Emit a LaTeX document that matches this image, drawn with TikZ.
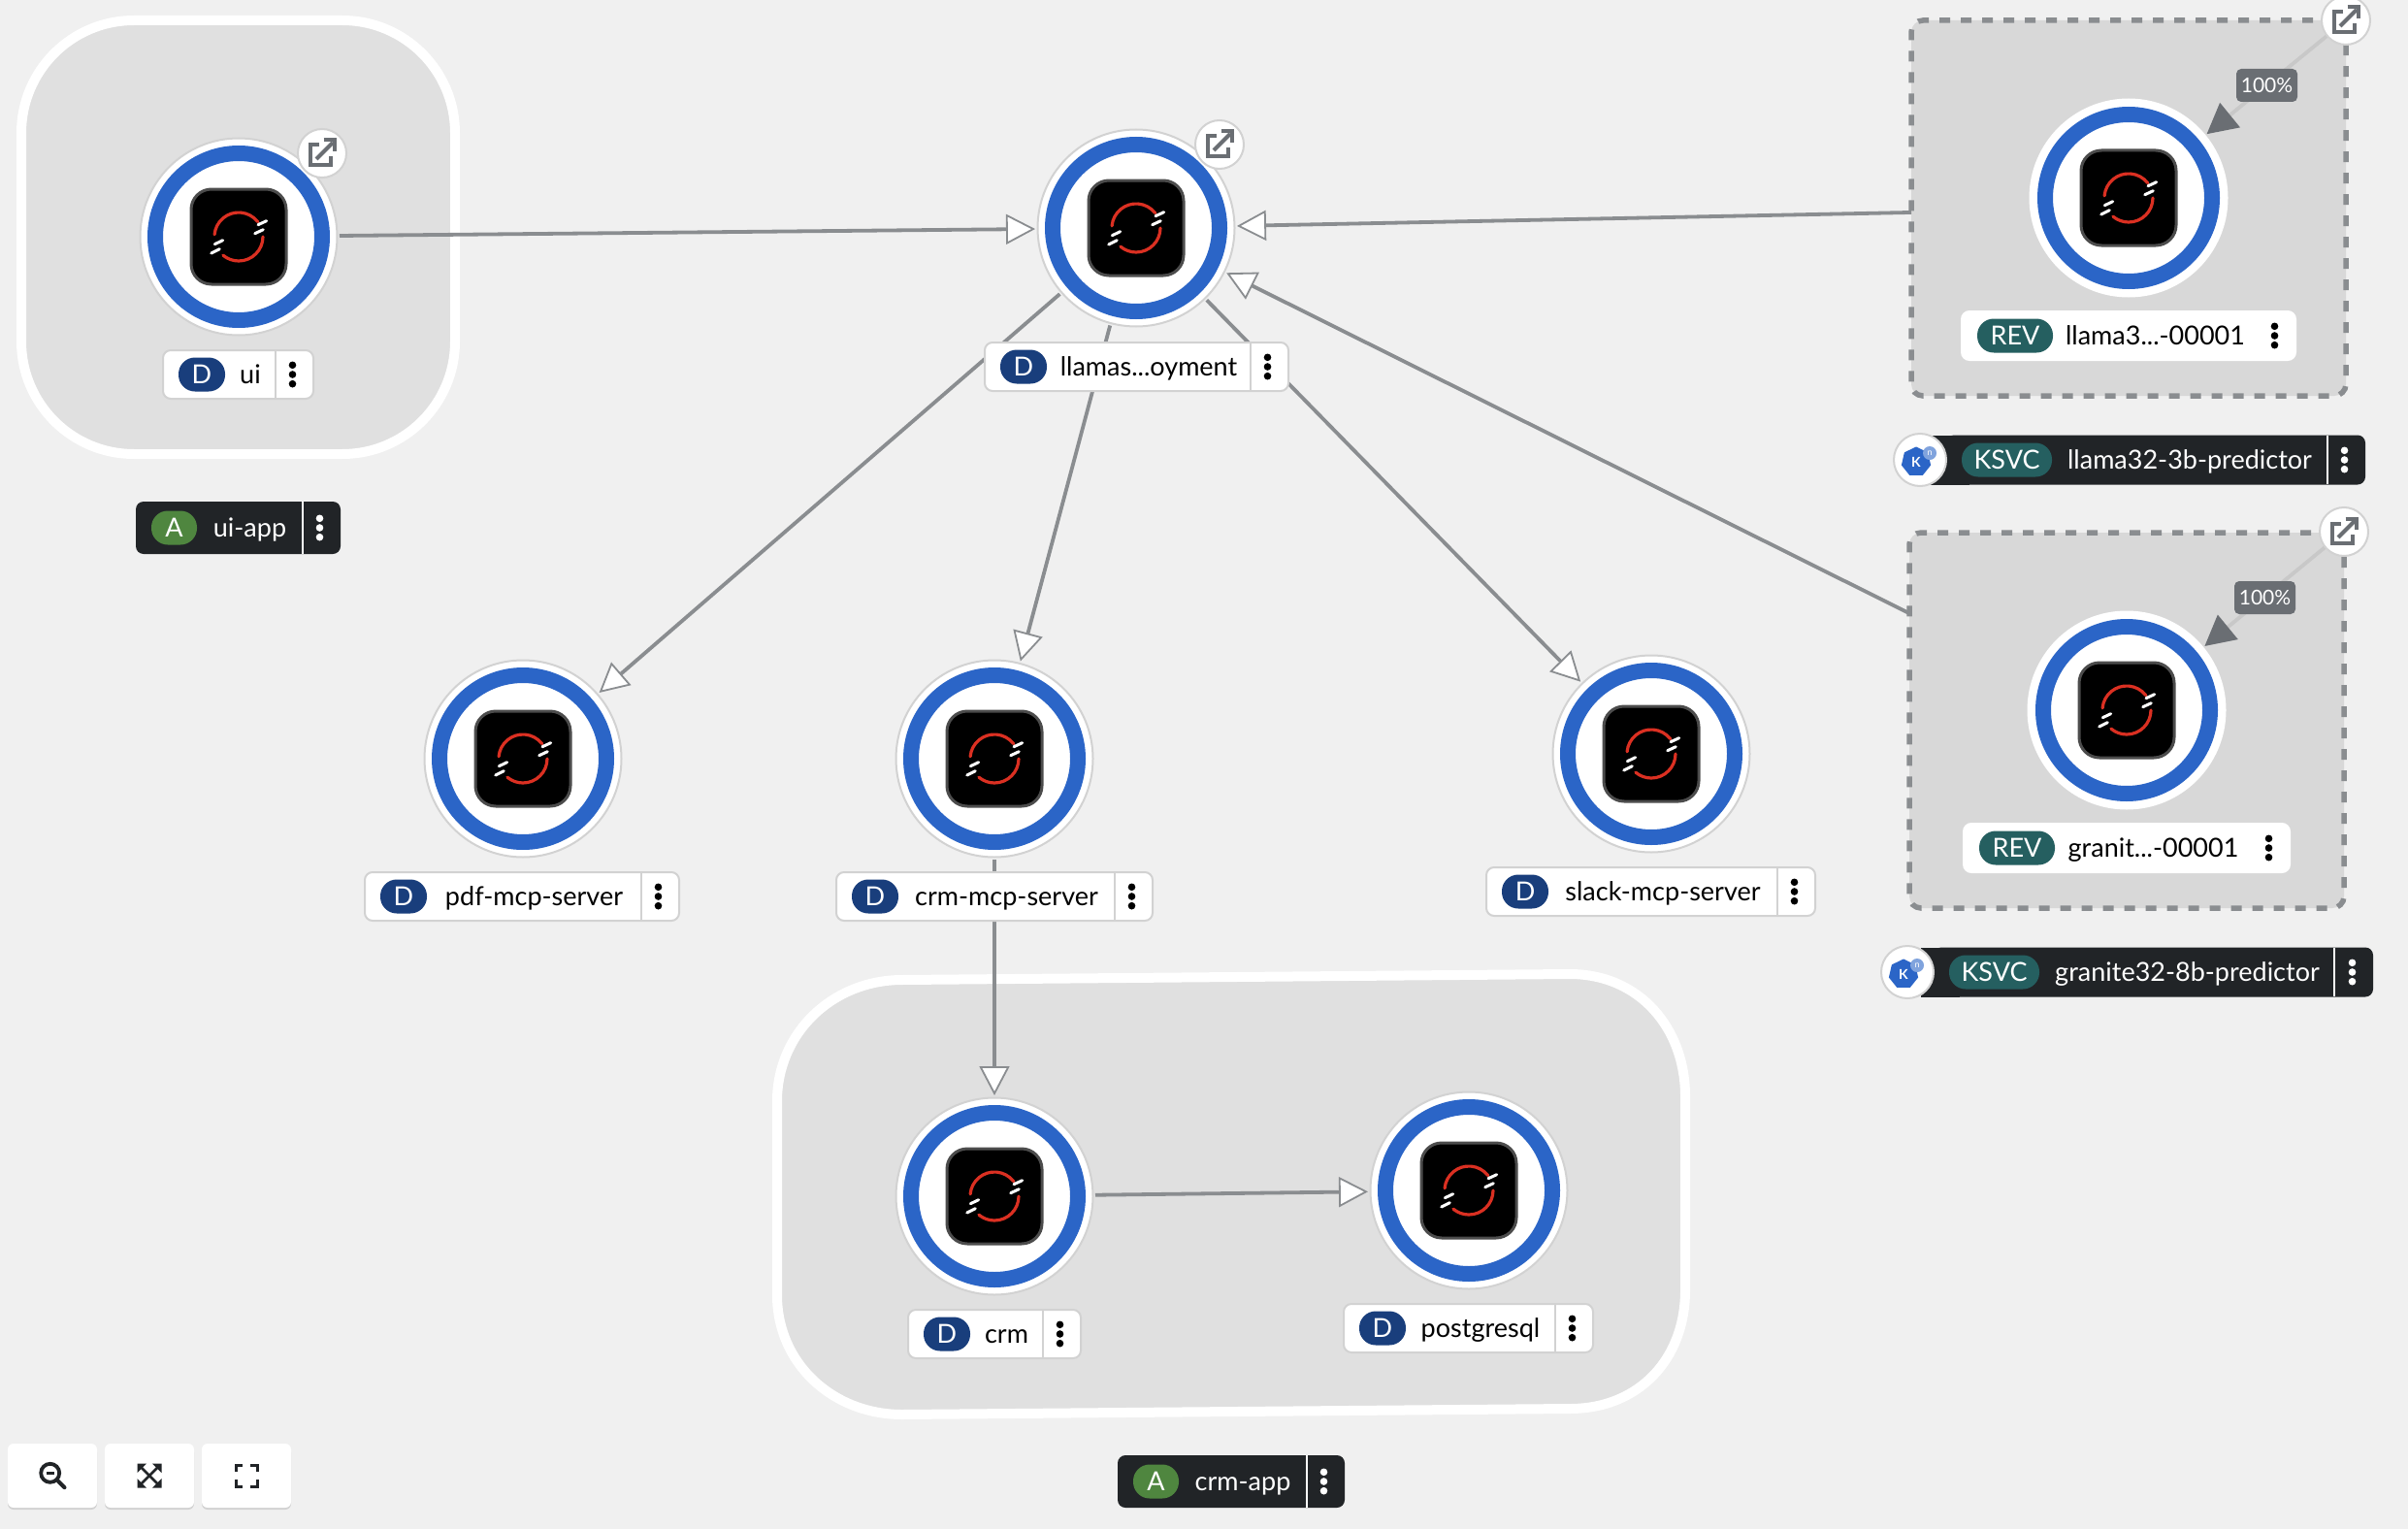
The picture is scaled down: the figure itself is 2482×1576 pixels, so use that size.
\documentclass[tikz,border=0pt]{standalone}
\usepackage{fontspec}
\setmainfont{Lato}
\usetikzlibrary{arrows.meta,shapes.geometric}

\definecolor{pagebg}{HTML}{F0F0F0}
\definecolor{groupbg}{HTML}{E0E0E0}
\definecolor{revbg}{HTML}{D8D8D8}
\definecolor{ringblue}{HTML}{2B65C7}
\definecolor{linegray}{HTML}{8A8D90}
\definecolor{softgray}{HTML}{D2D2D2}
\definecolor{trafficgray}{HTML}{C8C8C8}
\definecolor{darkgray}{HTML}{6A6E73}
\definecolor{tagdark}{HTML}{212427}
\definecolor{badgeblue}{HTML}{193E7C}
\definecolor{badgegreen}{HTML}{4F863F}
\definecolor{badgeteal}{HTML}{255F60}
\definecolor{iconred}{HTML}{DB3022}

\tikzset{
  tagfont/.style={font=\fontsize{27pt}{30pt}\selectfont},
  wnode/.style={circle, draw=softgray, line width=2pt, fill=white, inner sep=0pt, minimum size=203pt, outer sep=2.5pt},
  revnode/.style={wnode, draw=white},
  ring/.style={draw=ringblue, line width=16pt},
  appbox/.style={draw=white, line width=10pt, fill=groupbg},
  revbox/.style={draw=linegray, line width=5.5pt, dash pattern=on 11pt off 11pt, fill=revbg, rounded corners=12pt, inner sep=0pt, outer sep=0pt},
  flow/.style={draw=linegray, line width=3.8pt, -{Triangle[length=30pt,width=31pt,fill=white,line width=1.8pt]}},
  traffic/.style={draw=trafficgray, line width=3.8pt, -{Triangle[length=31pt,width=32pt,color=darkgray]}},
  extcircle/.style={circle, draw=softgray, line width=2pt, fill=white, inner sep=0pt, minimum size=50pt},
  lighttag/.style={draw=softgray, line width=2pt, fill=white, rounded corners=8pt, inner sep=0pt, minimum height=50pt},
  revtag/.style={lighttag, draw=white},
  darktag/.style={fill=tagdark, rounded corners=8pt, inner sep=0pt, minimum height=54pt},
  badge/.style={rounded corners=17pt, inner sep=0pt, minimum height=35pt, text=white, text height=19pt, text depth=0pt, tagfont},
  pct/.style={fill=darkgray, text=white, rounded corners=5pt, inner sep=0pt, minimum width=63pt, minimum height=34pt, font=\fontsize{21pt}{24pt}\selectfont},
  toolbtn/.style={fill=white, rounded corners=6pt, inner sep=0pt, minimum width=92pt, minimum height=66pt},
  tooldraw/.style={draw=tagdark, line width=3pt},
}

% the round workload: name, x, y, style
\newcommand{\workload}[4]{
  \node[#4] (#1) at (#2,#3) {};
  \draw[ring] (#1.center) circle [radius=86pt];
  \begin{scope}[shift={(#2,#3)}, y=1pt]
    \draw[fill=black, draw=black!70, line width=3pt, rounded corners=21pt] (-49,-49) rectangle (49,49);
    \draw[iconred, line width=3.2pt, line cap=round] (175:25pt) arc [start angle=175, end angle=38, radius=25pt];
    \draw[iconred, line width=3.2pt, line cap=round] (0:25pt) arc [start angle=0, end angle=-130, radius=25pt];
    \draw[white, line width=3pt, line cap=round] (20,12.3) -- (28.7,16.3);
    \draw[white, line width=3pt, line cap=round] (16.7,3.3) -- (25.3,7.3);
    \draw[white, line width=3pt, line cap=round] (-24.7,-7.7) -- (-16.3,-3.7);
    \draw[white, line width=3pt, line cap=round] (-28.3,-17) -- (-19.7,-12.7);
  \end{scope}
}

% the link button on a workload: name, x, y
\newcommand{\extlink}[3]{
  \node[extcircle] (#1) at (#2,#3) {};
  \begin{scope}[shift={(#2,#3)}, darkgray, line width=4pt]
    \draw (-3,-8.5) -- (-12,-8.5) -- (-12,12) -- (9,12) -- (9,3);
    \draw (-6,6) -- (11,-11);
    \draw (1.5,-13.5) -- (13,-13.5) -- (13,-2);
  \end{scope}
}

% the label: name, left, right, y, tag style, badge colour, badge text, badge width, text
\newcommand{\nametag}[9]{
  \node[#5, minimum width=#3-#2] (#1) at ({(#2+#3)/2},#4) {};
  \draw[#5, rounded corners=0pt, line width=2pt] (#3-39,#4-25) -- (#3-39,#4+25);
  \node[badge, fill=#6, minimum width=#8] (#1-badge) at ({#2+16+#8/2},#4) {#7};
  \node[tagfont, anchor=base, inner sep=0pt] (#1-text) at ({(#2+16+#8+#3-39)/2},#4+9) {#9};
}

% the three dots of a label, black or white
\newcommand{\kebab}[3]{
  \foreach \d in {-9.7,0,9.7}
    \fill[#3] (#1-21.5,#2+\d) circle [radius=3.8pt];
}

\begin{document}
\begin{tikzpicture}[x=1pt, y=-1pt]
  \useasboundingbox (0,0) rectangle (2482,1576);
  \fill[pagebg] (0,0) rectangle (2482,1576);

  % the group of ui-app
  \node[appbox, rounded corners=116pt, inner sep=0pt, outer sep=0pt, minimum width=447pt, minimum height=447pt] (uigroup) at (245.5,244.5) {};
  % the group of crm-app, a little slanted
  \draw[appbox] (930,1010) -- (1618,1004)
    .. controls (1690,1004) and (1737,1060) .. (1737,1130) -- (1737,1330)
    .. controls (1737,1400) and (1690,1452) .. (1618,1452) -- (930,1458)
    .. controls (858,1458) and (801,1405) .. (801,1335) -- (801,1135)
    .. controls (801,1065) and (858,1010) .. (930,1010) -- cycle;

  % the two dashed revision boxes
  \node[revbox, minimum width=448pt, minimum height=387pt] (llamagroup) at (2194,214.5) {};
  \node[revbox, minimum width=448pt, minimum height=387pt] (granitegroup) at (2192,742.5) {};

  % the workloads
  \foreach \name/\cx/\cy in {ui/246/244, llamas/1171/235, pdf/539/782, crmmcp/1025/782, slack/1702/777, crm/1025/1233, postgresql/1514/1227} {
    \workload{\name}{\cx}{\cy}{wnode}
  }
  \foreach \name/\cx/\cy in {llamarev/2194/204, graniterev/2192/732} {
    \workload{\name}{\cx}{\cy}{revnode}
  }

  % the link buttons
  \extlink{uilink}{332}{158}
  \extlink{llamaslink}{1257}{149}
  \extlink{llamarevlink}{2418}{21}
  \extlink{graniterevlink}{2416}{548}

  % the connectors
  \draw[flow] (ui) -- (llamas);
  \draw[flow] (llamagroup) -- (llamas);
  \draw[flow] (granitegroup) -- (llamas);
  \foreach \to in {pdf, crmmcp, slack}
    \draw[flow] (llamas) -- (\to);
  \draw[flow] (crmmcp) -- (crm);
  \draw[flow] (crm) -- (postgresql);

  % the traffic lines, and their labels
  \draw[traffic] (llamarevlink) -- (llamarev);
  \draw[traffic] (graniterevlink) -- (graniterev);
  \node[pct] (llamapct) at (2336.5,88) {100\%};
  \node[pct] (granitepct) at (2334.5,616) {100\%};

  % the labels of the workloads
  \nametag{uitag}{168}{323}{386}{lighttag}{badgeblue}{D}{48}{ui}
  \kebab{323}{386}{black}
  \nametag{llamastag}{1015}{1328}{378}{lighttag}{badgeblue}{D}{48}{llamas...oyment}
  \kebab{1328}{378}{black}
  \nametag{pdftag}{376}{700}{924}{lighttag}{badgeblue}{D}{48}{pdf-mcp-server}
  \kebab{700}{924}{black}
  \nametag{crmmcptag}{862}{1188}{924}{lighttag}{badgeblue}{D}{48}{crm-mcp-server}
  \kebab{1188}{924}{black}
  \nametag{slacktag}{1532}{1871}{919}{lighttag}{badgeblue}{D}{48}{slack-mcp-server}
  \kebab{1871}{919}{black}
  \nametag{crmtag}{936}{1114}{1375}{lighttag}{badgeblue}{D}{48}{crm}
  \kebab{1114}{1375}{black}
  \nametag{postgresqltag}{1385}{1642}{1369}{lighttag}{badgeblue}{D}{48}{postgresql}
  \kebab{1642}{1369}{black}

  % the labels of the revisions
  \nametag{llamarevtag}{2022}{2366}{346}{revtag}{badgeteal}{REV}{78}{llama3...-00001}
  \kebab{2366}{346}{black}
  \nametag{graniterevtag}{2024}{2360}{874}{revtag}{badgeteal}{REV}{78}{granit...-00001}
  \kebab{2360}{874}{black}

  % the dark labels of the applications
  \nametag{uiapp}{140}{351}{544}{darktag, draw=none}{badgegreen}{A}{47}{\color{white}ui-app}
  \draw[white, line width=2pt] (312,517) -- (312,571);
  \kebab{351}{544}{white}
  \nametag{crmapp}{1152}{1386}{1527}{darktag, draw=none}{badgegreen}{A}{47}{\color{white}crm-app}
  \draw[white, line width=2pt] (1347,1500) -- (1347,1554);
  \kebab{1386}{1527}{white}

  % the dark labels of the services, their left end runs under the knative button
  \fill[tagdark] (1990,448.5) rectangle (2030,499.5);
  \nametag{llamasvc}{2006}{2438}{474}{darktag, minimum height=51pt, draw=none}{badgeteal}{KSVC}{93}{\color{white}llama32-3b-predictor}
  \draw[white, line width=2pt] (2399,449) -- (2399,499);
  \kebab{2438}{474}{white}
  \fill[tagdark] (1980,976.5) rectangle (2020,1027.5);
  \nametag{granitesvc}{1993}{2446}{1002}{darktag, minimum height=51pt, draw=none}{badgeteal}{KSVC}{93}{\color{white}granite32-8b-predictor}
  \draw[white, line width=2pt] (2406,977) -- (2406,1027);
  \kebab{2446}{1002}{white}

  % the knative buttons
  \foreach \name/\cx/\cy in {llamakn/1979/474, granitekn/1966/1002} {
    \node[circle, draw=softgray, line width=2pt, fill=white, inner sep=0pt, minimum size=54pt] (\name) at (\cx,\cy) {};
    \node[regular polygon, regular polygon sides=7, fill=ringblue, text=white, inner sep=0pt, minimum size=31pt, font=\bfseries\fontsize{14pt}{16pt}\selectfont] (\name-hex) at (\cx-4,\cy+2) {K};
    \node[circle, fill=ringblue!60, text=white, inner sep=0pt, minimum size=14pt, font=\fontsize{9pt}{10pt}\selectfont] (\name-dot) at (\cx+10,\cy-7) {n};
  }

  % the three buttons at the bottom
  \foreach \name/\cx in {zoomout/54, fitall/154, fullview/254} {
    \fill[softgray, rounded corners=6pt] (\cx-46,1491) rectangle (\cx+46,1556);
    \node[toolbtn] (\name) at (\cx,1521) {};
  }
  % the lens
  \draw[tooldraw, line width=3.8pt] (51.7,1518.3) circle [radius=9.5pt];
  \draw[tooldraw, line width=3pt] (47.5,1518.3) -- (56,1518.3);
  \draw[tooldraw, line width=4pt, line cap=round] (60,1526.7) -- (66.5,1533.2);
  % the four arrows
  \draw[tooldraw, line width=2.8pt] (145,1512) -- (163,1530);
  \draw[tooldraw, line width=2.8pt] (163,1512) -- (145,1530);
  \foreach \sx/\sy in {-1/-1, 1/-1, -1/1, 1/1}
    \fill[tagdark] (154+\sx*12.5,1521+\sy*12.5) -- ++(-\sx*9.5,0) -- ++(\sx*9.5,-\sy*9.5) -- cycle;
  % the four corners
  \foreach \sx/\sy in {-1/-1, 1/-1, -1/1, 1/1}
    \draw[tooldraw] (254+\sx*11,1521+\sy*4) -- (254+\sx*11,1521+\sy*11) -- (254+\sx*4,1521+\sy*11);
\end{tikzpicture}
\end{document}
